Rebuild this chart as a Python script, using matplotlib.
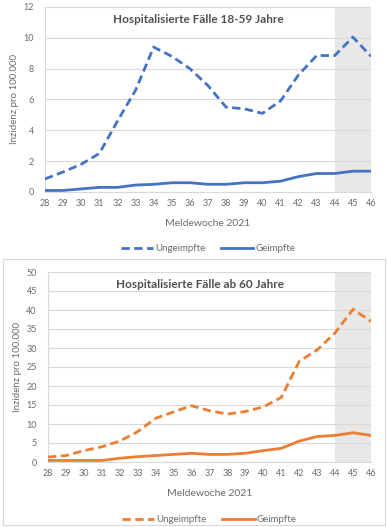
import numpy as np
import matplotlib.pyplot as plt
from matplotlib.patches import Rectangle
from matplotlib.lines import Line2D

plt.rcParams['font.family'] = ['Lato', 'DejaVu Sans']

weeks = list(range(28, 47))

young_unvacc = [0.85, 1.3, 1.8, 2.5, 4.6, 6.6, 9.4, 8.8, 8.0, 6.9, 5.5, 5.4, 5.1, 5.9, 7.6, 8.85, 8.85, 10.05, 8.8]
young_vacc = [0.1, 0.1, 0.2, 0.3, 0.3, 0.45, 0.5, 0.6, 0.6, 0.5, 0.5, 0.6, 0.6, 0.7, 1.0, 1.2, 1.2, 1.35, 1.35]

old_unvacc = [1.3, 1.7, 3.0, 4.0, 5.5, 8.0, 11.5, 13.2, 14.8, 13.5, 12.6, 13.3, 14.5, 17.0, 26.5, 29.5, 34.0, 40.2, 37.0]
old_vacc = [0.4, 0.4, 0.4, 0.4, 1.0, 1.4, 1.7, 2.0, 2.3, 2.0, 2.0, 2.3, 3.0, 3.6, 5.5, 6.7, 7.0, 7.7, 7.0]

W, H = 387, 527
fig = plt.figure(figsize=(W / 100, H / 100), dpi=100)

text_col = '#6b6b6b'
grid_col = '#D9D9D9'


def px_axes(x0, y0, x1, y1):
    # pixel box (top-left origin) -> figure axes
    return fig.add_axes([x0 / W, 1 - y1 / H, (x1 - x0) / W, (y1 - y0) / H])


def draw_panel(ax, unvacc, vacc, color, ymax, ystep, title, title_y):
    ax.axvspan(44, 46, color='#E8E8E8', zorder=0, lw=0)
    ax.set_yticks(np.arange(0, ymax + ystep / 2, ystep))
    ax.yaxis.grid(True, color=grid_col, lw=0.8, zorder=1)
    ax.set_axisbelow(True)
    ax.plot(weeks, unvacc, color=color, lw=2, ls=(0, (3, 1.6)), zorder=3)
    ax.plot(weeks, vacc, color=color, lw=2, zorder=3)
    ax.set_xlim(28, 46)
    ax.set_ylim(0, ymax)
    ax.set_xticks(weeks)
    for s in ['top', 'right']:
        ax.spines[s].set_visible(False)
    ax.spines['left'].set_color(grid_col)
    ax.spines['bottom'].set_color(grid_col)
    ax.tick_params(length=0, labelsize=6.5, labelcolor=text_col)
    ax.tick_params(axis='x', pad=5)
    ax.tick_params(axis='y', pad=8)
    ax.set_ylabel('Inzidenz pro 100.000', fontsize=7, color=text_col, labelpad=3)
    ax.set_xlabel('Meldewoche 2021', fontsize=7.5, color=text_col, labelpad=8)
    ax.text(0.47, title_y, title, transform=ax.transAxes, ha='center', va='center',
            fontsize=8.5, fontweight='bold', color='#505050')
    handles = [Line2D([], [], color=color, lw=2, ls=(0, (3, 1.6))),
               Line2D([], [], color=color, lw=2)]
    ax.legend(handles, ['Ungeimpfte', 'Geimpfte'], loc='upper center',
              bbox_to_anchor=(0.5, -0.235), ncol=2, frameon=False, fontsize=7,
              labelcolor=text_col, handlelength=3.3, columnspacing=1.6,
              handletextpad=0.25)


ax1 = px_axes(45, 7, 371, 192)
draw_panel(ax1, young_unvacc, young_vacc, '#4472C4', 12, 2,
           'Hospitalisierte Fälle 18-59 Jahre', 0.935)

fig.patches.append(Rectangle((3 / W, 1 - 525 / H), 382 / W, 266 / H,
                             transform=fig.transFigure, fill=False,
                             edgecolor=grid_col, lw=0.8))

ax2 = px_axes(48, 272, 371, 462)
draw_panel(ax2, old_unvacc, old_vacc, '#ED7D31', 50, 5,
           'Hospitalisierte Fälle ab 60 Jahre', 0.935)

fig.savefig('out.png', dpi=100)
